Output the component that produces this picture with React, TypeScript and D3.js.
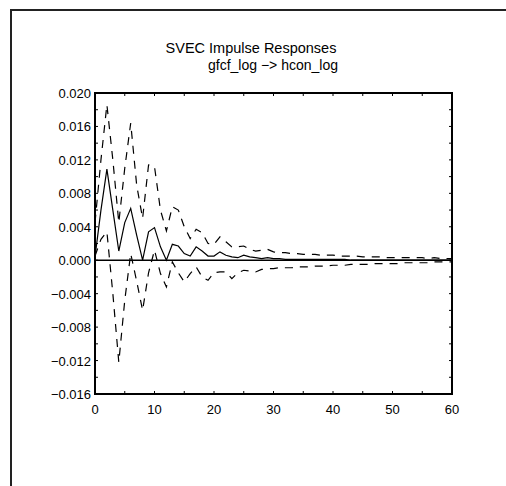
import React from "react";
import * as d3 from "d3";

const horizon: number[] = d3.range(0, 61);

const response: number[] = [
  0.0004, 0.006, 0.0109, 0.006, 0.0011, 0.0045, 0.0062, 0.003, 0.0, 0.0034,
  0.0039, 0.0016, 0.0, 0.0019, 0.0017, 0.0008, 0.0005, 0.0016, 0.0011, 0.0005,
  0.0005, 0.001, 0.0006, 0.0004, 0.0003, 0.0006, 0.0004, 0.0003, 0.0002, 0.0003,
  0.0002, 0.0002, 0.0001, 0.0001, 0.0001, 0.0001, 0.0001, 0.0001, 0.0001, 0.0001,
  0.0001, 0.0001, 0.0001, 0.0, 0.0, 0.0, 0.0, 0.0, 0.0, 0.0,
  0.0, 0.0, 0.0, 0.0, 0.0, 0.0, 0.0, 0.0, 0.0, 0.0, 0.0,
];

const upperBand: number[] = [
  0.0045, 0.012, 0.0186, 0.012, 0.0045, 0.011, 0.0164, 0.009, 0.005, 0.0114,
  0.0112, 0.006, 0.0035, 0.0064, 0.006, 0.004, 0.0026, 0.0037, 0.0033, 0.002,
  0.0019, 0.0028, 0.0022, 0.0016, 0.0016, 0.0017, 0.0013, 0.0011, 0.0012, 0.0013,
  0.001, 0.0009, 0.0009, 0.0008, 0.0008, 0.0007, 0.0007, 0.0007, 0.0006, 0.0006,
  0.0006, 0.0005, 0.0005, 0.0005, 0.0005, 0.0004, 0.0004, 0.0004, 0.0004, 0.0003,
  0.0003, 0.0003, 0.0003, 0.0003, 0.0003, 0.0003, 0.0002, 0.0003, 0.0002, 0.0002, 0.0002,
];

const lowerBand: number[] = [
  0.0005, 0.0025, 0.0034, -0.004, -0.0122, -0.0048, 0.0008, -0.0025, -0.006, -0.0015,
  0.0012, -0.0016, -0.0032, -0.0002, -0.0015, -0.0026, -0.0016, -0.0008, -0.002, -0.0024,
  -0.0015, -0.0014, -0.0014, -0.0022, -0.0015, -0.0012, -0.0013, -0.0014, -0.0011, -0.001,
  -0.001, -0.0009, -0.0009, -0.0009, -0.0008, -0.0008, -0.0008, -0.0007, -0.0007, -0.0007,
  -0.0006, -0.0006, -0.0006, -0.0005, -0.0005, -0.0005, -0.0005, -0.0004, -0.0004, -0.0004,
  -0.0004, -0.0004, -0.0003, -0.0003, -0.0003, -0.0003, -0.0003, -0.0002, -0.0002, -0.0002, -0.0002,
];

const yTickLabels: number[] = [0.02, 0.016, 0.012, 0.008, 0.004, 0, -0.004, -0.008, -0.012, -0.016];
const xTickLabels: number[] = [0, 10, 20, 30, 40, 50, 60];

const title = "SVEC Impulse Responses";
const subtitle = "gfcf_log \u2212> hcon_log";

export default function App() {
  const W = 506;
  const H = 486;
  const left = 95;
  const right = 452;
  const top = 93;
  const bottom = 394;

  const x = d3.scaleLinear().domain([0, 60]).range([left, right]);
  const y = d3.scaleLinear().domain([-0.016, 0.02]).range([bottom, top]);

  const line = d3
    .line<number>()
    .x((_, i) => x(horizon[i]))
    .y((d) => y(d));

  const minorX = d3.range(0, 61, 5);
  const minorY = d3.range(-0.016, 0.0201, 0.002);
  const font = "'Liberation Sans', Arial, sans-serif";

  return (
    <svg
      width={W}
      height={H}
      style={{ position: "absolute", left: 0, top: 0, background: "#fff" }}
    >
      <rect x={0} y={0} width={W} height={H} fill="#fff" />
      <path d={`M11,${H} V10 H${W}`} fill="none" stroke="#222" strokeWidth={2} />

      <text x={251} y={53} textAnchor="middle" fontFamily={font} fontSize={14.5} fill="#000">
        {title}
      </text>
      <text x={273} y={70} textAnchor="middle" fontFamily={font} fontSize={14} fill="#000">
        {subtitle}
      </text>

      <path d={line(upperBand) || ""} fill="none" stroke="#000" strokeWidth={1.2} strokeDasharray="8,7" />
      <path d={line(lowerBand) || ""} fill="none" stroke="#000" strokeWidth={1.2} strokeDasharray="8,7" />
      <path d={line(response) || ""} fill="none" stroke="#000" strokeWidth={1.2} />

      <line x1={left} x2={right} y1={y(0)} y2={y(0)} stroke="#000" strokeWidth={1.6} />

      {minorX.map((v) => (
        <g key={"tx" + v}>
          <line x1={x(v)} x2={x(v)} y1={bottom} y2={bottom - 3} stroke="#000" strokeWidth={1} />
          <line x1={x(v)} x2={x(v)} y1={top} y2={top + 3} stroke="#000" strokeWidth={1} />
        </g>
      ))}
      {minorY.map((v, i) => (
        <g key={"ty" + i}>
          <line x1={left} x2={left + 3} y1={y(v)} y2={y(v)} stroke="#000" strokeWidth={1} />
          <line x1={right} x2={right - 3} y1={y(v)} y2={y(v)} stroke="#000" strokeWidth={1} />
        </g>
      ))}

      <rect x={left} y={top} width={right - left} height={bottom - top} fill="none" stroke="#000" strokeWidth={2} />

      {yTickLabels.map((v) => (
        <text
          key={"yl" + v}
          x={left - 4}
          y={y(v) + 5}
          textAnchor="end"
          fontFamily={font}
          fontSize={13}
          fill="#000"
        >
          {d3.format(".3f")(v).replace("-", "\u2212")}
        </text>
      ))}
      {xTickLabels.map((v) => (
        <text
          key={"xl" + v}
          x={x(v)}
          y={414}
          textAnchor="middle"
          fontFamily={font}
          fontSize={13}
          fill="#000"
        >
          {v}
        </text>
      ))}
    </svg>
  );
}
